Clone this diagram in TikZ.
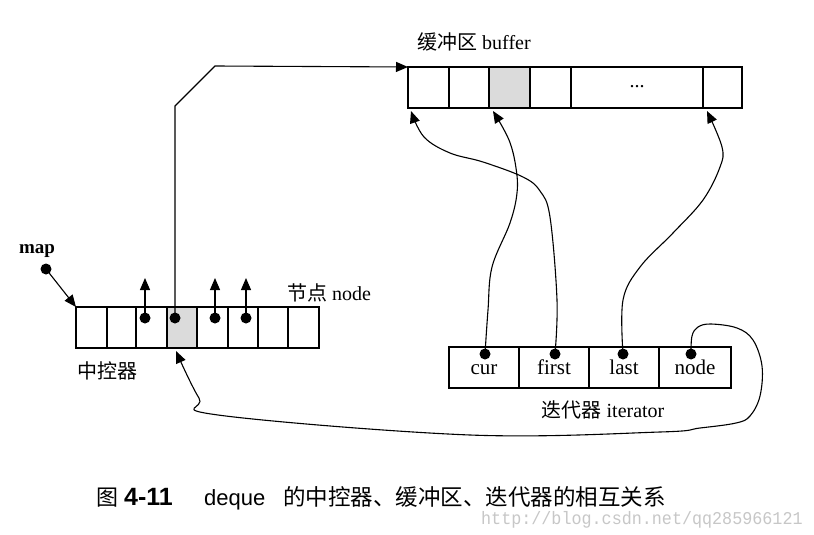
\documentclass[tikz,border=0pt]{standalone}
\usepackage{fontspec}
\setmainfont{Liberation Serif}
\setsansfont{Liberation Sans}
\setmonofont{Liberation Mono}
\newfontfamily\cjk{Noto Sans CJK SC}
\usetikzlibrary{arrows.meta}
\begin{document}
\begin{tikzpicture}[x=1pt,y=-1pt,
  cell/.style={draw,line width=1.1pt,inner sep=0pt,outer sep=0pt,minimum height=41pt},
  shaded/.style={fill=black!14},
  dotnode/.style={circle,fill=black,inner sep=0pt,minimum size=11pt},
  ptr/.style={line width=1.1pt,-{Triangle[length=12pt,width=10pt]}},
  curve/.style={line width=1.1pt,-{Triangle[length=12pt,width=10pt]},smooth,tension=0.6},
  lbl/.style={inner sep=0pt,font=\fontsize{20}{24}\selectfont},
  celltxt/.style={text height=14pt,text depth=0pt,font=\fontsize{21}{24}\selectfont},
  captxt/.style={inner sep=0pt,anchor=base west}
]
\useasboundingbox[fill=white] (0,0) rectangle (814,535);

% ---- map (control center)
\node[cell,minimum width=31pt] (m1) at (91.5,327.5) {};
\node[cell,minimum width=29pt] (m2) at (121.5,327.5) {};
\node[cell,minimum width=31pt] (m3) at (151.5,327.5) {};
\node[cell,shaded,minimum width=30pt] (m4) at (182,327.5) {};
\node[cell,minimum width=31pt] (m5) at (212.5,327.5) {};
\node[cell,minimum width=30pt] (m6) at (243,327.5) {};
\node[cell,minimum width=30pt] (m7) at (273,327.5) {};
\node[cell,minimum width=31pt] (m8) at (303.5,327.5) {};

% ---- buffer
\node[cell,minimum width=41pt] (b1) at (428.5,87.5) {};
\node[cell,minimum width=40pt] (b2) at (469,87.5) {};
\node[cell,shaded,minimum width=41pt] (b3) at (509.5,87.5) {};
\node[cell,minimum width=41pt] (b4) at (550.5,87.5) {};
\node[cell,minimum width=132pt,font=\fontsize{20}{22}\selectfont] (b5) at (637,87.5) {\raisebox{3pt}{...}};
\node[cell,minimum width=39pt] (b6) at (722.5,87.5) {};

% ---- iterator
\node[cell,celltxt,minimum width=70pt] (i1) at (484,367.5) {cur};
\node[cell,celltxt,minimum width=70pt] (i2) at (554,367.5) {first};
\node[cell,celltxt,minimum width=70pt] (i3) at (624,367.5) {last};
\node[cell,celltxt,minimum width=72pt] (i4) at (695,367.5) {node};

% ---- labels
\node[lbl,anchor=west] (buflbl) at (417,42) {{\cjk 缓冲区} buffer};
\node[lbl,font=\bfseries\fontsize{19}{22}\selectfont] (maplbl) at (37,251) {map};
\node[lbl,anchor=west] (nodelbl) at (287,293) {{\cjk 节点} node};
\node[lbl,font=\cjk\fontsize{20}{24}\selectfont] (ctrllbl) at (107,371) {中控器};
\node[lbl] (itlbl) at (603,410) {{\cjk 迭代器} iterator};

% ---- dots
\node[dotnode] (dmap) at (46,269) {};
\node[dotnode] (d3) at (145,318) {};
\node[dotnode] (d4) at (175,318) {};
\node[dotnode] (d5) at (215,318) {};
\node[dotnode] (d6) at (246,318) {};
\node[dotnode] (dcur) at (485,354) {};
\node[dotnode] (dfirst) at (555,354) {};
\node[dotnode] (dlast) at (623,354) {};
\node[dotnode] (dnode) at (691,354) {};

\coordinate (t3) at (145,278);
\coordinate (t5) at (215,278);
\coordinate (t6) at (246,278);
\coordinate (tnode) at (176,351);

% ---- connectors
\draw[ptr] (dmap.center) -- (m1.north west);
\draw[ptr] (d3.center) -- (t3);
\draw[ptr] (d5.center) -- (t5);
\draw[ptr] (d6.center) -- (t6);
\draw[ptr] (d4.center) -- (175,106) -- (215,66) -- (b1.north west);

\draw[curve] plot coordinates {(dcur.center) (488,310) (492,267) (510,223) (517,193) (516,168) (509,140) (493,111)};
\draw[curve] plot coordinates {(dfirst.center) (557,300) (550,217) (540,191) (523,177) (483,162) (450,153) (424,137) (411,111)};
\draw[curve] plot coordinates {(dlast.center) (623,300) (640,267) (673,233) (703,200) (720,167) (722,147) (707,111)};
\draw[curve] plot coordinates {(dnode.center) (692,336) (698,327) (711,324) (737,328) (753,340) (762,366) (760,396) (750,416) (736,423) (700,428) (660,432) (470,435) (218,415) (199,398) (tnode)};

% ---- caption
\node[captxt,font=\cjk\fontsize{22}{26}\selectfont] (cap1) at (96,505) {图};
\node[captxt,font=\sffamily\bfseries\fontsize{25}{28}\selectfont] (cap2) at (124,505) {4-11};
\node[captxt,font=\sffamily\fontsize{22}{26}\selectfont] (cap3) at (204,505) {deque};
\node[captxt,font=\cjk\fontsize{22.5}{26}\selectfont] (cap4) at (283,505) {的中控器、缓冲区、迭代器的相互关系};
\node[captxt,text=black!22,xscale=0.93,font=\ttfamily\fontsize{18}{20}\selectfont] (wm) at (481,524) {http://blog.csdn.net/qq285966121};
\end{tikzpicture}
\end{document}
